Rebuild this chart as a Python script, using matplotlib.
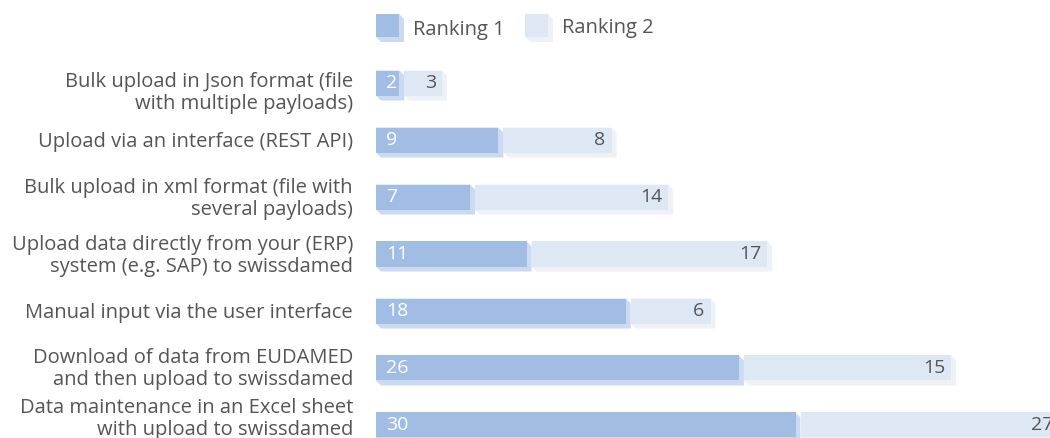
import numpy as np
import matplotlib
matplotlib.use("Agg")
import matplotlib.pyplot as plt
from matplotlib.patches import Polygon, Rectangle

categories = [
    "Bulk upload in Json format (file\nwith multiple payloads)",
    "Upload via an interface (REST API)",
    "Bulk upload in xml format (file with\nseveral payloads)",
    "Upload data directly from your (ERP)\nsystem (e.g. SAP) to swissdamed",
    "Manual input via the user interface",
    "Download of data from EUDAMED\nand then upload to swissdamed",
    "Data maintenance in an Excel sheet\nwith upload to swissdamed",
]
ranking1 = [2, 9, 7, 11, 18, 26, 30]
ranking2 = [3, 8, 14, 17, 6, 15, 27]
series_names = ["Ranking 1", "Ranking 2"]

face_colors = ["#a2bde3", "#dee7f4"]
side_colors = ["#c9daf1", "#eef1f6"]
text_gray = "#555555"

plt.rcParams['font.family'] = ['Open Sans', 'DejaVu Sans']

W, H = 1050, 439
fig = plt.figure(figsize=(W / 100, H / 100), dpi=100)

# layout in pixels
ax_left, ax_right = 376, 1050
px_per_unit = 14.15
row0_px, row_step_px = 84, 57
ax_top_px = 55
bar_h_px = 25
depth_px = 5
label_nudge_px = [9, 1, 1, 1, 1, 0, -7]
fs = 14.5

ax = fig.add_axes([ax_left / W, 0, (ax_right - ax_left) / W, (H - ax_top_px) / H])
xmax = (ax_right - ax_left) / px_per_unit
ax.set_xlim(0, xmax)
y_top = (ax_top_px - row0_px) / row_step_px
y_bot = (H - row0_px) / row_step_px
ax.set_ylim(y_bot, y_top)
for s in ax.spines.values():
    s.set_visible(False)
ax.set_xticks([])
ax.set_yticks([])

n = len(categories)
ypos = np.arange(n)
bh = bar_h_px / row_step_px
dx = depth_px / px_per_unit
dy = depth_px / row_step_px


def draw_block(x0, width, y, face, side, zorder):
    x1 = x0 + width - dx
    yt = y - bh / 2
    yb = y + bh / 2
    shadow = Polygon([(x0, yt), (x1, yt), (x1 + dx, yt + dy), (x1 + dx, yb + dy),
                      (x0 + dx, yb + dy), (x0, yb)], closed=True,
                     facecolor=side, edgecolor='none', zorder=zorder)
    ax.add_patch(shadow)
    ax.add_patch(Rectangle((x0, yt), x1 - x0, bh, facecolor=face,
                           edgecolor='none', zorder=zorder + 0.5))
    return x1


pad = 10 / px_per_unit
for i in range(n):
    v1, v2 = ranking1[i], ranking2[i]
    draw_block(0, v1, ypos[i], face_colors[0], side_colors[0], 2)
    end2 = draw_block(v1, v2, ypos[i], face_colors[1], side_colors[1], 2)
    ax.text(pad, ypos[i] - 1 / row_step_px, str(v1), color="white", fontsize=14,
            ha="left", va="center", zorder=5)
    lab_x = min(end2 - 6 / px_per_unit, xmax + 0.25)
    ax.text(lab_x, ypos[i] - 1 / row_step_px, str(v2), color=text_gray, fontsize=14,
            ha="right", va="center", zorder=5, clip_on=True)
    # category label
    ax.text(-23 / px_per_unit, ypos[i] + label_nudge_px[i] / row_step_px, categories[i],
            fontsize=fs, color=text_gray, ha="right", va="center",
            multialignment="right", linespacing=1.12, clip_on=False)

# legend (overlay in pixel coordinates)
lax = fig.add_axes([0, 0, 1, 1], zorder=-1)
lax.set_xlim(0, W)
lax.set_ylim(H, 0)
lax.axis('off')
leg_items = [(376, 413), (525, 562)]
for k, (sx, tx) in enumerate(leg_items):
    sq = 23
    y0 = 15
    lax.add_patch(Polygon([(sx, y0), (sx + sq, y0), (sx + sq + depth_px, y0 + depth_px),
                           (sx + sq + depth_px, y0 + sq + depth_px),
                           (sx + depth_px, y0 + sq + depth_px), (sx, y0 + sq)],
                          closed=True, facecolor=side_colors[k], edgecolor='none'))
    lax.add_patch(Rectangle((sx, y0), sq, sq, facecolor=face_colors[k], edgecolor='none'))
    lax.text(tx, 30 - k * 1.5, series_names[k], fontsize=fs, color=text_gray,
             ha='left', va='center')

fig.savefig("out.png", dpi=100)
